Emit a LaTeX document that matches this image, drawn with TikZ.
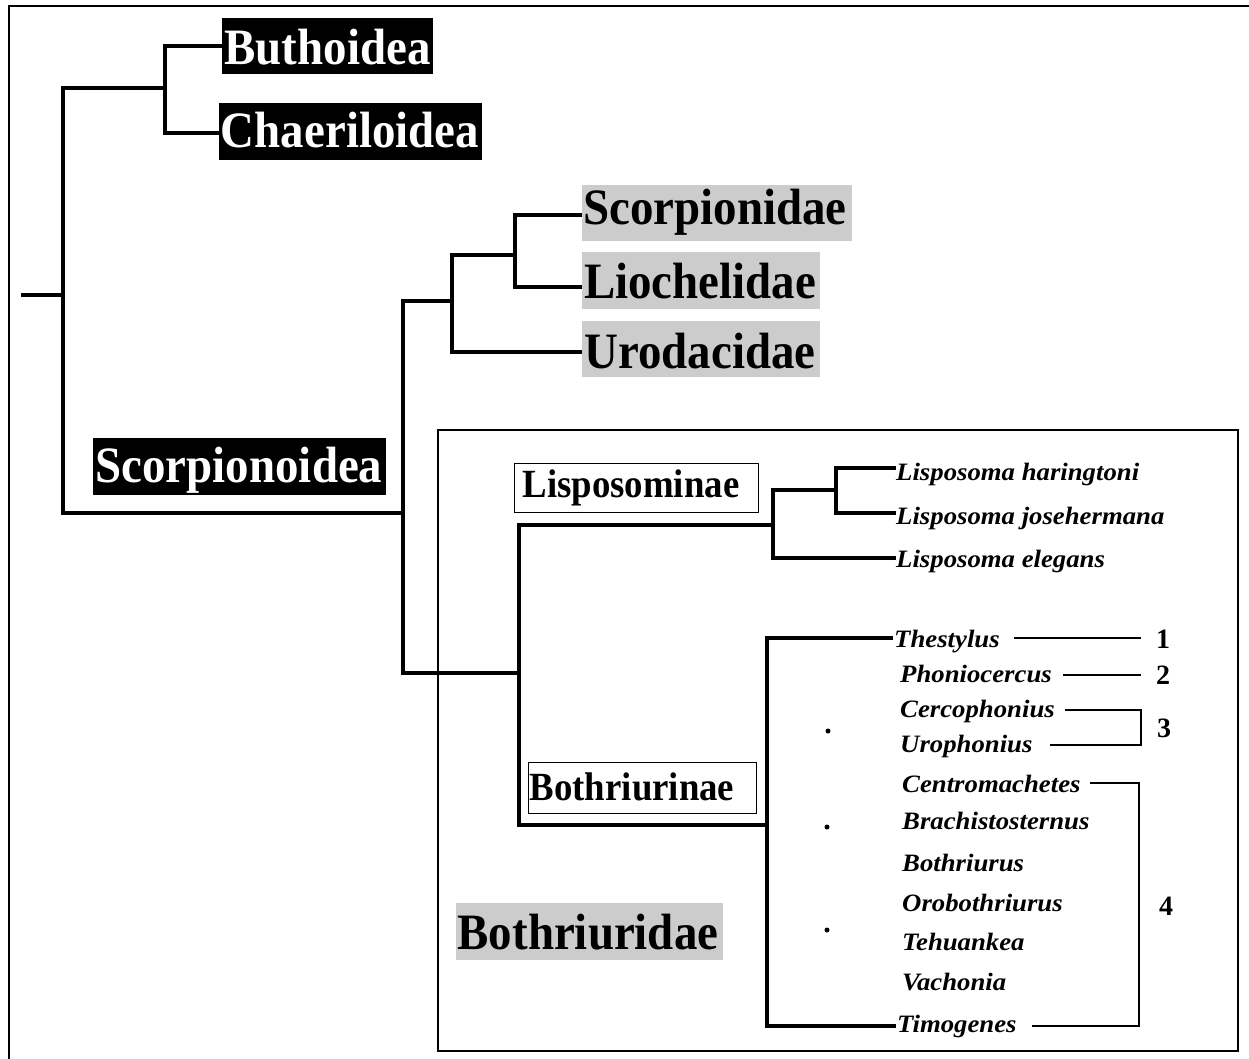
\documentclass[tikz,border=0pt]{standalone}
\usepackage{fontspec}
\setmainfont{Liberation Serif}
\newfontfamily\condfont[FakeStretch=0.92]{Liberation Serif}
\newfontfamily\widefont[FakeStretch=1.07]{Liberation Serif}
\definecolor{hlgrey}{HTML}{CCCCCC}
\begin{document}
\begin{tikzpicture}[x=1pt,y=-1pt,
  tree/.style={line width=3.6pt, line join=miter},
  grp/.style={line width=2.8pt, line join=miter},
  blackbox/.style={fill=black, draw=none, inner sep=0pt},
  greybox/.style={fill=hlgrey, draw=none, inner sep=0pt},
  thinbox/.style={draw=black, line width=1pt, fill=white, inner sep=0pt},
  bigwhite/.style={text=white, font=\condfont\fontsize{51}{54}\selectfont\bfseries, anchor=base, inner sep=0pt},
  bigblack/.style={text=black, font=\condfont\fontsize{51}{54}\selectfont\bfseries, anchor=base, inner sep=0pt},
  sub/.style={font=\condfont\fontsize{40}{43}\selectfont\bfseries, anchor=base, inner sep=0pt},
  lisp/.style={font=\widefont\fontsize{25}{27}\selectfont\bfseries\itshape, anchor=base west, inner sep=0pt},
  genus/.style={font=\widefont\fontsize{25}{27}\selectfont\bfseries\itshape, anchor=base west, inner sep=0pt},
  num/.style={font=\fontsize{28}{30}\selectfont\bfseries, anchor=base, inner sep=0pt},
  dotmark/.style={circle, fill=black, inner sep=0pt, minimum size=5pt}
]
\useasboundingbox (0,0) rectangle (1249,1059);
% outer frame (left and top)
\draw[line width=2.5pt] (9,1062) -- (9,6) -- (1252,6);
% inner frame
\draw[line width=2.5pt] (438,430) rectangle (1238,1051);

% label boxes
\node[blackbox, minimum width=211pt, minimum height=56pt] (buthbox) at (327.5,46) {};
\node[bigwhite] (buth) at (327.5,65) {Buthoidea};
\node[blackbox, minimum width=263pt, minimum height=57pt] (chaebox) at (350.5,131.5) {};
\node[bigwhite] (chae) at (350,148) {Chaeriloidea};
\node[greybox, minimum width=270pt, minimum height=56pt] (scorbox) at (717,213) {};
\node[bigblack] (scor) at (715,225) {Scorpionidae};
\node[greybox, minimum width=238pt, minimum height=57pt] (liocbox) at (701,280.5) {};
\node[bigblack] (lioc) at (700,298) {Liochelidae};
\node[greybox, minimum width=238pt, minimum height=56pt] (urodbox) at (701,349) {};
\node[bigblack] (urod) at (700,368) {Urodacidae};
\node[blackbox, minimum width=293pt, minimum height=57pt] (scoidbox) at (239.5,466.5) {};
\node[bigwhite] (scoid) at (239,482) {Scorpionoidea};
\node[greybox, minimum width=267pt, minimum height=57pt] (bothbox) at (589.5,931.5) {};
\node[bigblack] (both) at (588,949) {Bothriuridae};
\node[thinbox, minimum width=244pt, minimum height=49pt] (lispbox) at (636,487.5) {};
\node[sub] (lisp) at (631,497) {Lisposominae};
\node[thinbox, minimum width=228pt, minimum height=51pt] (bthnbox) at (642,787.5) {};
\node[sub] (bthn) at (632,800) {Bothriurinae};

% tree
\draw[tree] (21,295) -- (63,295);
\draw[tree] (buthbox.west) -- (165,46) -- (165,133) -- (chaebox.west |- 0,133);
\draw[tree] (165,88) -- (63,88) -- (63,513) -- (403,513);
\draw[tree] (452,301) -- (403,301) -- (403,673) -- (519,673);
\draw[tree] (515,255) -- (452,255) -- (452,352) -- (urodbox.west |- 0,352);
\draw[tree] (scorbox.west |- 0,215) -- (515,215) -- (515,287) -- (liocbox.west |- 0,287);
\draw[tree] (773,525) -- (519,525) -- (519,825) -- (767,825);
\draw[tree] (836,490) -- (773,490) -- (773,558) -- (896,558);
\draw[tree] (896,468) -- (836,468) -- (836,513) -- (896,513);
\draw[tree] (893,638) -- (767,638) -- (767,1026) -- (896,1026);

% Lisposoma
\node[lisp] (lh) at (896,480) {Lisposoma haringtoni};
\node[lisp] (lj) at (896,524) {Lisposoma josehermana};
\node[lisp] (le) at (896,567) {Lisposoma elegans};

% genera
\node[genus] (g1) at (894,647) {Thestylus};
\node[genus] (g2) at (900,682) {Phoniocercus};
\node[genus] (g3) at (900,717) {Cercophonius};
\node[genus] (g4) at (900,752) {Urophonius};
\node[genus] (g5) at (902,792) {Centromachetes};
\node[genus] (g6) at (902,829) {Brachistosternus};
\node[genus] (g7) at (902,871) {Bothriurus};
\node[genus] (g8) at (902,911) {Orobothriurus};
\node[genus] (g9) at (902,950) {Tehuankea};
\node[genus] (g10) at (902,990) {Vachonia};
\node[genus] (g11) at (897,1032) {Timogenes};

% group numbers
\node[num] (n1) at (1163,648) {1};
\node[num] (n2) at (1163,684) {2};
\node[num] (n3) at (1164,737) {3};
\node[num] (n4) at (1166,915) {4};

% group lines
\draw[grp] (1014,638) -- (1141,638);
\draw[grp] (1063,675) -- (1141,675);
\draw[grp] (1065,710) -- (1141,710) -- (1141,745) -- (1050,745);
\draw[grp] (1090,783) -- (1139,783) -- (1139,1026) -- (1032,1026);

% dots
\node[dotmark] (d1) at (828,731) {};
\node[dotmark] (d2) at (827,827) {};
\node[dotmark] (d3) at (827,930) {};
\end{tikzpicture}
\end{document}
